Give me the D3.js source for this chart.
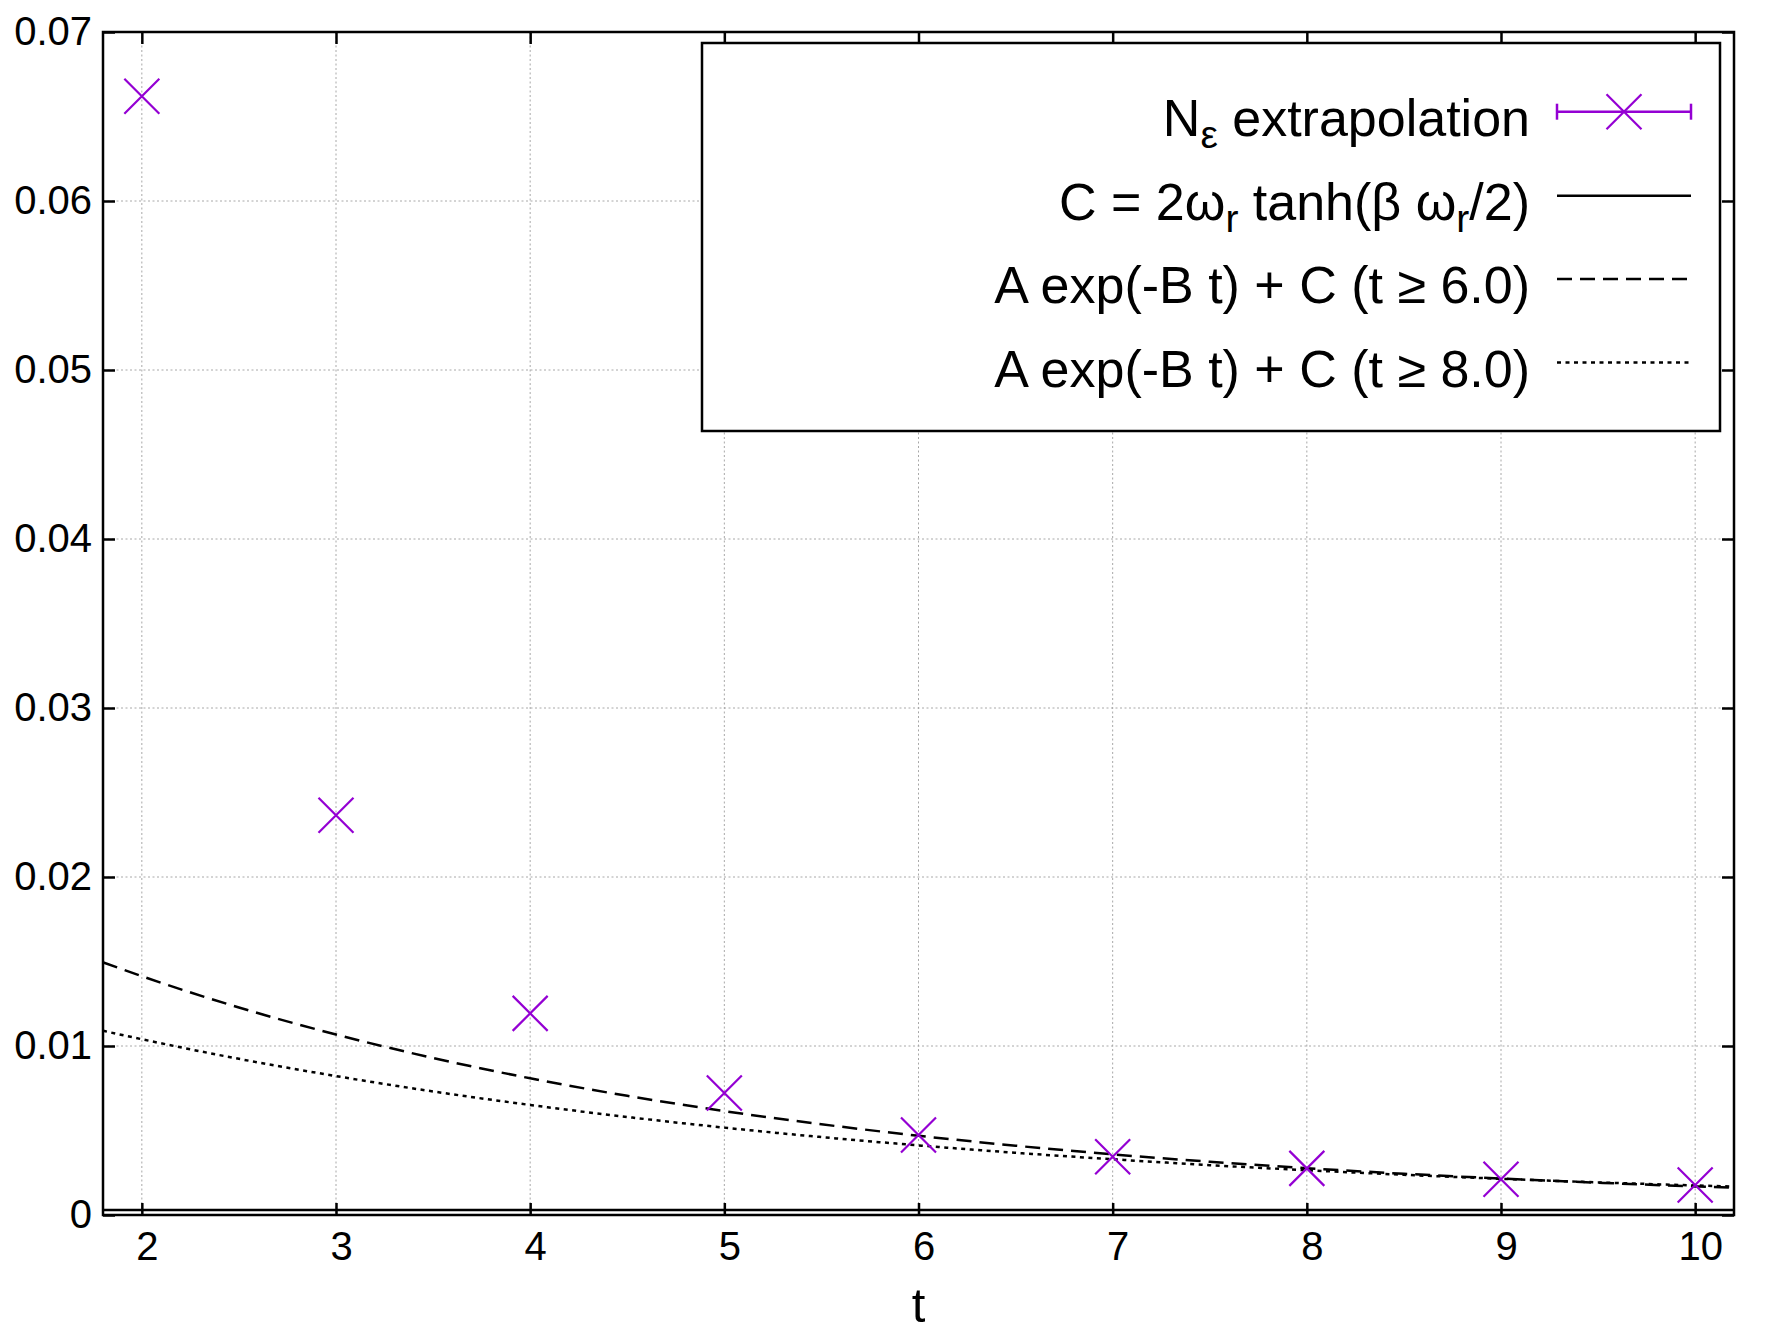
<!DOCTYPE html>
<html><head><meta charset="utf-8">
<script src="https://cdn.jsdelivr.net/npm/d3@7"></script>
<style>
body{margin:0;background:#fff}
svg{display:block}
text{font-family:"Liberation Sans",Arial,Helvetica,sans-serif;fill:#000}
</style>
</head><body>
<svg id="chart" width="1778" height="1334"></svg>
<script>
// ---- data ----
const tValues = [2, 3, 4, 5, 6, 7, 8, 9, 10];
const nEpsValues = [0.0662, 0.02365, 0.01193, 0.00722, 0.00473, 0.00345, 0.00276, 0.00211, 0.00178];
const fitT = [1.8, 2, 2.5, 3, 3.5, 4, 4.5, 5, 5.5, 6, 6.5, 7, 7.5, 8, 8.5, 9, 9.5, 10, 10.2];
const fit6Values = [0.01495, 0.01413, 0.01228, 0.01068, 0.00929, 0.00809, 0.00705, 0.00615, 0.00537, 0.00469, 0.00410, 0.00359, 0.00315, 0.00277, 0.00244, 0.00216, 0.00191, 0.00169, 0.00161];
const fit8Values = [0.01090, 0.01040, 0.00924, 0.00822, 0.00731, 0.00651, 0.00580, 0.00517, 0.00461, 0.00412, 0.00368, 0.00330, 0.00295, 0.00265, 0.00238, 0.00214, 0.00193, 0.00175, 0.00168];
const cValue = 0.0003;
const xDomain = [1.8, 10.2];
const yDomain = [0, 0.07];
const xTicks = [2, 3, 4, 5, 6, 7, 8, 9, 10];
const yTicks = [0, 0.01, 0.02, 0.03, 0.04, 0.05, 0.06, 0.07];
const yTickLabels = ["0", "0.01", "0.02", "0.03", "0.04", "0.05", "0.06", "0.07"];
const xLabel = "t";

// ---- layout ----
const L = 103, R = 1734, T = 32, B = 1215;
const svg = d3.select("#chart");
svg.append("rect").attr("width", 1778).attr("height", 1334).attr("fill", "#fff");

const x = d3.scaleLinear().domain(xDomain).range([L, R]);
const y = d3.scaleLinear().domain(yDomain).range([B, T]);

svg.append("defs").append("clipPath").attr("id", "clip")
  .append("rect").attr("x", L).attr("y", T).attr("width", R - L).attr("height", B - T);

// grid
const grid = svg.append("g").attr("stroke", "#a8a8a8").attr("stroke-width", 1).attr("stroke-dasharray", "2,2.5");
grid.selectAll("line.gx").data(xTicks).join("line")
  .attr("x1", d => x(d)).attr("x2", d => x(d)).attr("y1", T).attr("y2", B);
grid.selectAll("line.gy").data(yTicks.filter(d => d > 0 && d < 0.07)).join("line")
  .attr("y1", d => y(d)).attr("y2", d => y(d)).attr("x1", L).attr("x2", R);

// axes
const tickLen = 12;
function styleAxis(g) {
  g.select(".domain").remove();
  g.selectAll(".tick line").attr("stroke", "#000").attr("stroke-width", 2.5);
  g.selectAll(".tick text").attr("fill", "#000").style("font-size", "40px")
    .style("font-family", '"Liberation Sans",Arial,sans-serif');
}
svg.append("g").attr("transform", `translate(0,${B})`)
  .call(d3.axisBottom(x).tickValues(xTicks).tickSize(-tickLen).tickPadding(17).tickFormat(d3.format("d")))
  .call(styleAxis)
  .call(g => g.selectAll(".tick text").attr("dx", 5));
svg.append("g").attr("transform", `translate(0,${T})`)
  .call(d3.axisTop(x).tickValues(xTicks).tickSize(-tickLen))
  .call(styleAxis)
  .call(g => g.selectAll(".tick text").remove());
svg.append("g").attr("transform", `translate(${L},0)`)
  .call(d3.axisLeft(y).tickValues(yTicks).tickSize(-tickLen).tickPadding(11).tickFormat((d, i) => yTickLabels[i]))
  .call(styleAxis);
svg.append("g").attr("transform", `translate(${R},0)`)
  .call(d3.axisRight(y).tickValues(yTicks).tickSize(-tickLen))
  .call(styleAxis)
  .call(g => g.selectAll(".tick text").remove());

// plot lines
const plot = svg.append("g").attr("clip-path", "url(#clip)");
const line = d3.line().x(d => x(d[0])).y(d => y(d[1])).curve(d3.curveMonotoneX);

// constant C
plot.append("line").attr("x1", x(xDomain[0])).attr("x2", x(xDomain[1]))
  .attr("y1", y(cValue)).attr("y2", y(cValue)).attr("stroke", "#000").attr("stroke-width", 2.5);

plot.append("path").datum(fitT.map((t, i) => [t, fit6Values[i]]))
  .attr("d", line).attr("fill", "none").attr("stroke", "#000").attr("stroke-width", 2.5)
  .attr("stroke-dasharray", "15,8");
plot.append("path").datum(fitT.map((t, i) => [t, fit8Values[i]]))
  .attr("d", line).attr("fill", "none").attr("stroke", "#000").attr("stroke-width", 2.5)
  .attr("stroke-dasharray", "4,4.5");

// markers
const purple = "#9400d3";
const ms = 17.5;
const xMark = `M${-ms},${-ms}L${ms},${ms}M${-ms},${ms}L${ms},${-ms}`;
plot.selectAll("path.pt").data(tValues.map((t, i) => [t, nEpsValues[i]])).join("path")
  .attr("class", "pt")
  .attr("transform", d => `translate(${x(d[0])},${y(d[1])})`)
  .attr("d", xMark).attr("fill", "none").attr("stroke", purple).attr("stroke-width", 2.2);

// border
svg.append("rect").attr("x", L).attr("y", T).attr("width", R - L).attr("height", B - T)
  .attr("fill", "none").attr("stroke", "#000").attr("stroke-width", 2.5);

// x label
svg.append("text").attr("x", x(6)).attr("y", 1322).attr("text-anchor", "middle")
  .style("font-size", "49px").text(xLabel);

// legend
const lg = svg.append("g");
lg.append("rect").attr("x", 702).attr("y", 43).attr("width", 1018).attr("height", 388)
  .attr("fill", "#fff").attr("stroke", "#000").attr("stroke-width", 2.5);
const rowsY = [111.7, 195.7, 279, 362.5];
const textX = 1530, k1 = 1557, k2 = 1691;
function legText(row, parts) {
  const t = lg.append("text").attr("x", textX).attr("y", rowsY[row] + 24)
    .attr("text-anchor", "end").style("font-size", "52px");
  let prevSub = false;
  parts.forEach(p => {
    const ts = t.append("tspan").text(p.s);
    if (p.sub) {
      ts.attr("dy", 12).style("font-size", "39px");
    } else if (prevSub) {
      ts.attr("dy", -12);
    }
    prevSub = !!p.sub;
  });
}
legText(0, [{s: "N"}, {s: "\u03b5", sub: true}, {s: " extrapolation"}]);
legText(1, [{s: "C = 2\u03c9"}, {s: "r", sub: true}, {s: " tanh(\u03b2 \u03c9"}, {s: "r", sub: true}, {s: "/2)"}]);
legText(2, [{s: "A exp(-B t) + C (t \u2265 6.0)"}]);
legText(3, [{s: "A exp(-B t) + C (t \u2265 8.0)"}]);

// key 1: error bar + cross
const ky = rowsY[0];
lg.append("line").attr("x1", k1).attr("x2", k2).attr("y1", ky).attr("y2", ky).attr("stroke", purple).attr("stroke-width", 2.5);
[k1, k2].forEach(kx => lg.append("line").attr("x1", kx).attr("x2", kx).attr("y1", ky - 8).attr("y2", ky + 8).attr("stroke", purple).attr("stroke-width", 2.5));
lg.append("path").attr("transform", `translate(${(k1 + k2) / 2},${ky})`).attr("d", xMark)
  .attr("fill", "none").attr("stroke", purple).attr("stroke-width", 2.2);
// keys 2-4
[[1, null], [2, "15,8"], [3, "4,4.5"]].forEach(([r, dash]) => {
  const l = lg.append("line").attr("x1", k1).attr("x2", k2).attr("y1", rowsY[r]).attr("y2", rowsY[r])
    .attr("stroke", "#000").attr("stroke-width", 2.5);
  if (dash) l.attr("stroke-dasharray", dash);
});
</script>
</body></html>
